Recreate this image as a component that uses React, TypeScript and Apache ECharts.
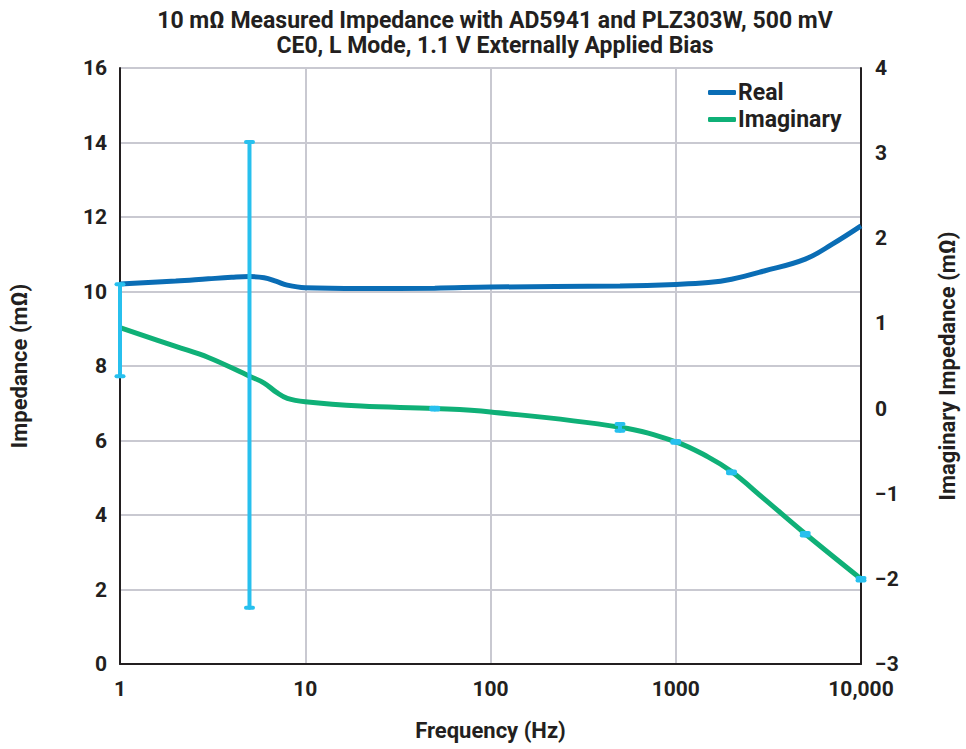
import React, { useEffect, useRef } from "react";
import * as echarts from "echarts";

const titleLines = [
  "10 mΩ Measured Impedance with AD5941 and PLZ303W, 500 mV",
  "CE0, L Mode, 1.1 V Externally Applied Bias",
];

const realFreq = [1, 2, 3, 4, 5, 6, 7, 8, 10, 20, 50, 100, 500, 1000, 1500, 2000, 3000, 5000, 7000, 10000];
const realVals = [10.2, 10.28, 10.34, 10.38, 10.4, 10.37, 10.27, 10.17, 10.1, 10.08, 10.09, 10.12, 10.15, 10.19, 10.24, 10.33, 10.55, 10.87, 11.27, 11.76];

const imagFreq = [1, 2, 3, 5, 6, 7, 8, 10, 20, 50, 100, 500, 1000, 1500, 2000, 3000, 5000, 10000];
const imagVals = [0.95, 0.73, 0.6, 0.38, 0.3, 0.19, 0.12, 0.08, 0.03, 0.0, -0.04, -0.22, -0.39, -0.57, -0.74, -1.06, -1.47, -2.0];

// error bars: [frequency, low, high] in imaginary-axis units
const errFreq = [1, 5, 50, 500, 1000, 2000, 5000, 10000];
const errLow = [0.38, -2.34, -0.01, -0.26, -0.4, -0.76, -1.49, -2.02];
const errHigh = [1.46, 3.13, 0.01, -0.18, -0.38, -0.74, -1.46, -1.99];

const leftTicks = { min: 0, max: 16, interval: 2 };
const rightTicks = { min: -3, max: 4, interval: 1 };

const FONT = "Roboto, 'Noto Sans', sans-serif";
const BLUE = "#0a6db5";
const GREEN = "#0fb077";
const ERR = "#27c0ee";
const AXIS = "#231f20";

export default function App() {
  const ref = useRef<HTMLDivElement>(null);
  useEffect(() => {
    if (!ref.current) return;
    const chart = echarts.init(ref.current, undefined, { renderer: "svg" });
    const option: any = {
      animation: false,
      backgroundColor: "#ffffff",
      title: {
        text: titleLines.join("\n"),
        left: 490,
        textAlign: "center",
        top: 3,
        textStyle: {
          fontFamily: FONT,
          fontWeight: "bold",
          fontSize: 23,
          lineHeight: 25,
          color: AXIS,
        },
      },
      legend: {
        left: 703,
        top: 76,
        orient: "vertical",
        itemWidth: 28,
        itemHeight: 5,
        itemGap: 4,
        icon: "roundRect",
        textStyle: { fontFamily: FONT, fontWeight: "bold", fontSize: 23, color: AXIS, padding: [0, 0, 0, -3] },
        data: ["Real", "Imaginary"],
      },
      grid: { left: 116, right: 103, top: 68, bottom: 85, containLabel: false },
      xAxis: {
        type: "log",
        logBase: 10,
        min: 1,
        max: 10000,
        name: "Frequency (Hz)",
        nameLocation: "middle",
        nameGap: 55,
        nameTextStyle: { fontFamily: FONT, fontWeight: "bold", fontSize: 22, color: AXIS },
        axisLine: { lineStyle: { color: AXIS, width: 2 } },
        axisTick: { show: false },
        minorTick: { show: false },
        axisLabel: {
          fontFamily: FONT,
          fontWeight: "bold",
          fontSize: 21,
          color: AXIS,
          margin: 14,
          formatter: (v: number) => (v >= 10000 ? v.toLocaleString("en-US") : String(v)),
        },
        splitLine: { show: true, lineStyle: { color: "#c9c9d1", width: 2 } },
      },
      yAxis: [
        {
          type: "value",
          ...leftTicks,
          name: "Impedance (mΩ)",
          nameLocation: "middle",
          nameGap: 90,
          nameTextStyle: { fontFamily: FONT, fontWeight: "bold", fontSize: 22, color: AXIS },
          axisLine: { show: true, lineStyle: { color: AXIS, width: 2 } },
          axisTick: { show: false },
          axisLabel: { fontFamily: FONT, fontWeight: "bold", fontSize: 21, color: AXIS, margin: 13 },
          splitLine: { show: true, lineStyle: { color: "#c9c9d1", width: 2 } },
        },
        {
          type: "value",
          ...rightTicks,
          name: "Imaginary Impedance (mΩ)",
          nameLocation: "middle",
          nameGap: 75,
          nameRotate: 90,
          nameTextStyle: { fontFamily: FONT, fontWeight: "bold", fontSize: 22, color: AXIS },
          axisLine: { show: true, lineStyle: { color: AXIS, width: 2 } },
          axisTick: { show: false },
          axisLabel: {
            fontFamily: FONT,
            fontWeight: "bold",
            fontSize: 21,
            color: AXIS,
            margin: 14,
            formatter: (v: number) => String(v).replace("-", "−"),
          },
          splitLine: { show: false },
        },
      ],
      series: [
        {
          name: "Real",
          type: "line",
          yAxisIndex: 0,
          smooth: 0.4,
          showSymbol: false,
          color: BLUE,
          lineStyle: { width: 5, color: BLUE },
          data: realFreq.map((f, i) => [f, realVals[i]]),
          z: 3,
        },
        {
          name: "Imaginary",
          type: "line",
          yAxisIndex: 1,
          smooth: 0.4,
          showSymbol: false,
          color: GREEN,
          lineStyle: { width: 5, color: GREEN },
          data: imagFreq.map((f, i) => [f, imagVals[i]]),
          z: 4,
        },
        {
          name: "err",
          type: "custom",
          yAxisIndex: 1,
          z: 5,
          data: errFreq.map((f, i) => [f, errLow[i], errHigh[i]]),
          renderItem: (params: any, api: any) => {
            const lo = api.coord([api.value(0), api.value(1)]);
            const hi = api.coord([api.value(0), api.value(2)]);
            const w = 3.5;
            const style = { stroke: ERR, lineWidth: 4, lineCap: "round" };
            return {
              type: "group",
              children: [
                { type: "line", shape: { x1: lo[0], y1: lo[1], x2: hi[0], y2: hi[1] }, style },
                { type: "line", shape: { x1: lo[0] - w, y1: lo[1], x2: lo[0] + w, y2: lo[1] }, style },
                { type: "line", shape: { x1: hi[0] - w, y1: hi[1], x2: hi[0] + w, y2: hi[1] }, style },
              ],
            };
          },
        },
      ],
    };
    chart.setOption(option);
    return () => chart.dispose();
  }, []);
  return <div ref={ref} style={{ width: 966, height: 749, position: "absolute", left: 0, top: 0 }} />;
}
